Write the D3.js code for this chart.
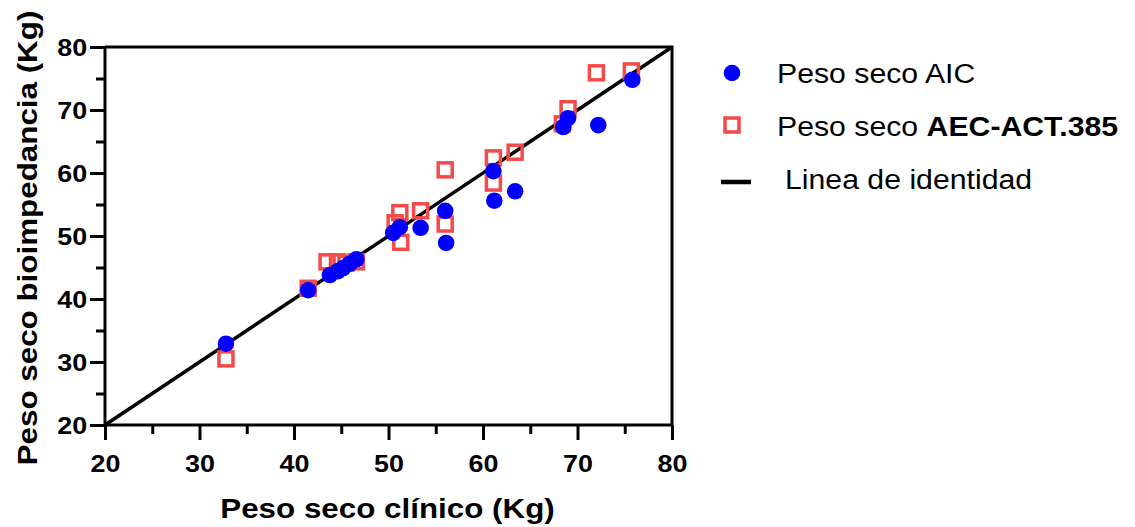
<!DOCTYPE html>
<html>
<head>
<meta charset="utf-8">
<script src="https://cdn.jsdelivr.net/npm/d3@7"></script>
<style>
  body { margin: 0; background: #fff; }
  svg { font-family: "Liberation Sans", Arial, sans-serif; }
</style>
</head>
<body>
<svg id="chart" width="1135" height="527"></svg>
<script>
// AIC (blue circles): clinical weight vs bioimpedance weight
const aicX = [32.8, 41.5, 43.8, 44.6, 45.2, 45.9, 46.6, 50.5, 51.2, 53.4, 56.0, 56.1, 61.1, 61.2, 63.4, 68.5, 69.0, 72.2, 75.8];
const aicY = [32.9, 41.4, 43.8, 44.4, 44.9, 45.6, 46.3, 50.5, 51.4, 51.3, 54.0, 48.9, 60.3, 55.6, 57.1, 67.3, 68.7, 67.6, 74.8];

// AEC-ACT.385 (red open squares)
const aecX = [32.8, 41.5, 43.5, 44.6, 45.5, 46.6, 50.7, 51.2, 51.3, 53.4, 56.0, 56.0, 61.1, 61.1, 63.4, 68.4, 69.0, 72.0, 75.7];
const aecY = [30.5, 41.7, 45.9, 45.9, 45.7, 45.9, 52.1, 53.7, 49.0, 54.0, 60.5, 51.9, 62.4, 58.4, 63.3, 67.8, 70.2, 75.9, 76.2];

const majorTicks = [20, 30, 40, 50, 60, 70, 80];
const minorTicks = [25, 35, 45, 55, 65, 75];
const identity = [20, 80];

const svg = d3.select('#chart');
const mLeft = 105, mRight = 672, mTop = 47, mBottom = 425;
const stretch = 1.12; // reference text is a bit wide

const x = d3.scaleLinear().domain([20, 80]).range([mLeft, mRight]);
const y = d3.scaleLinear().domain([20, 80]).range([mBottom, mTop]);

const blue = '#0000ff';
const red = '#f44a4a';

// frame (top and right)
svg.append('path')
  .attr('d', `M${mLeft},${mTop}H${mRight}V${mBottom}`)
  .attr('fill', 'none')
  .attr('stroke', '#000')
  .attr('stroke-width', 3);

// x axis
const xAxis = svg.append('g')
  .attr('transform', `translate(0,${mBottom})`)
  .call(d3.axisBottom(x).tickValues(majorTicks).tickSize(15).tickPadding(15).tickFormat(d3.format('d')));
xAxis.append('g')
  .call(d3.axisBottom(x).tickValues(minorTicks).tickSize(9).tickFormat(''))
  .select('.domain').remove();

// y axis
const yAxis = svg.append('g')
  .attr('transform', `translate(${mLeft},0)`)
  .call(d3.axisLeft(y).tickValues(majorTicks).tickSize(15).tickPadding(1).tickFormat(d3.format('d')));
yAxis.append('g')
  .call(d3.axisLeft(y).tickValues(minorTicks).tickSize(9).tickFormat(''))
  .select('.domain').remove();

xAxis.select('.domain').attr('d', `M${mLeft},0H${mRight}`).attr('stroke-width', 3);
yAxis.select('.domain').attr('d', `M0,${mBottom}V${mTop}`).attr('stroke-width', 3);
svg.selectAll('.tick line').attr('stroke-width', 3);
svg.selectAll('.tick text')
  .attr('font-size', 24)
  .attr('font-weight', 'bold')
  .attr('fill', '#000')
  .attr('font-family', '"Liberation Sans", Arial, sans-serif')
  .attr('transform', `scale(${stretch},1)`);
yAxis.selectAll('.tick text').attr('dy', '0.35em');

// identity line
svg.append('line')
  .attr('x1', x(identity[0])).attr('y1', y(identity[0]))
  .attr('x2', x(identity[1])).attr('y2', y(identity[1]))
  .attr('stroke', '#000')
  .attr('stroke-width', 3.5);

// AEC squares
const sq = 14;
svg.append('g')
  .selectAll('rect')
  .data(aecX)
  .enter()
  .append('rect')
  .attr('x', (d) => x(d) - sq / 2)
  .attr('y', (d, i) => y(aecY[i]) - sq / 2)
  .attr('width', sq)
  .attr('height', sq)
  .attr('fill', 'none')
  .attr('stroke', red)
  .attr('stroke-width', 3.5);

// AIC circles
svg.append('g')
  .selectAll('circle')
  .data(aicX)
  .enter()
  .append('circle')
  .attr('cx', (d) => x(d))
  .attr('cy', (d, i) => y(aicY[i]))
  .attr('r', 8.3)
  .attr('fill', blue);

// axis titles
svg.append('text')
  .attr('transform', `translate(${(mLeft + mRight) / 2 - 1},518) scale(${stretch},1)`)
  .attr('text-anchor', 'middle')
  .attr('font-size', 28)
  .attr('font-weight', 'bold')
  .text('Peso seco clínico (Kg)');

svg.append('text')
  .attr('transform', `translate(37,238) rotate(-90) scale(${stretch},1)`)
  .attr('text-anchor', 'middle')
  .attr('font-size', 28)
  .attr('font-weight', 'bold')
  .text('Peso seco bioimpedancia (Kg)');

// legend
const lg = svg.append('g');
const legendText = (lx, ly) => lg.append('text')
  .attr('transform', `translate(${lx},${ly}) scale(${stretch},1)`)
  .attr('font-size', 27);

lg.append('circle').attr('cx', 732).attr('cy', 73).attr('r', 8.3).attr('fill', blue);
legendText(777, 83).text('Peso seco AIC');

lg.append('rect').attr('x', 725).attr('y', 118).attr('width', 14).attr('height', 14)
  .attr('fill', 'none').attr('stroke', red).attr('stroke-width', 3.5);
const t2 = legendText(777, 136);
t2.append('tspan').text('Peso seco ');
t2.append('tspan').attr('font-weight', 'bold').text('AEC-ACT.385');

lg.append('line').attr('x1', 721).attr('x2', 751).attr('y1', 182).attr('y2', 182)
  .attr('stroke', '#000').attr('stroke-width', 4.5);
legendText(785, 189).text('Linea de identidad');
</script>
</body>
</html>
